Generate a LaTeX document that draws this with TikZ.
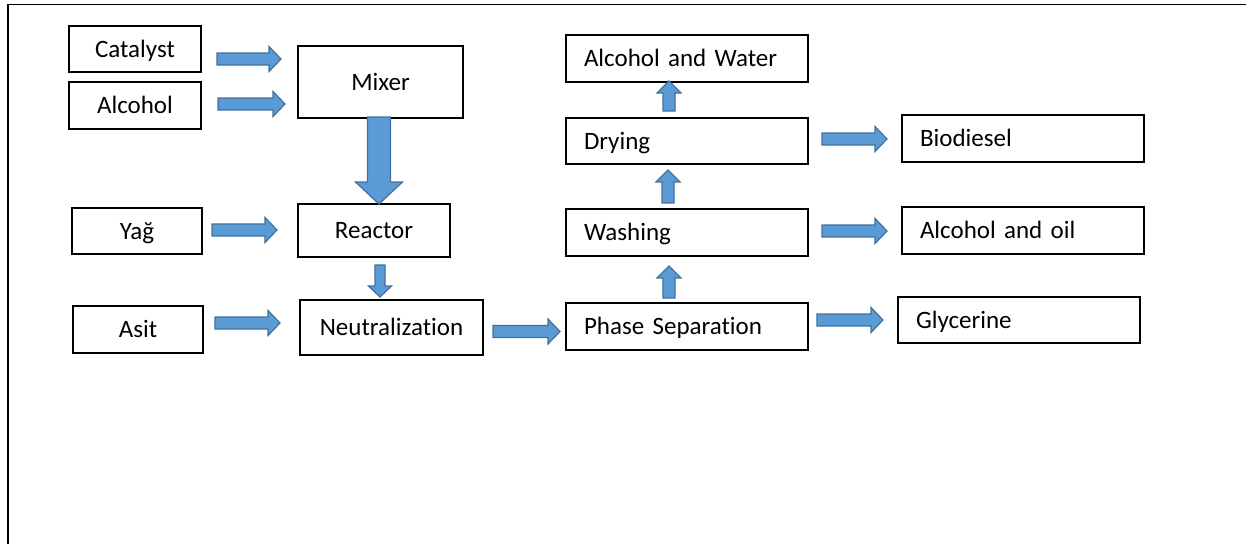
\documentclass[tikz,border=0pt]{standalone}
\usepackage{fontspec}
\setmainfont{Carlito}[Ligatures=NoCommon]
\usepackage{tikz}
\usetikzlibrary{positioning,calc}

\definecolor{arrowfill}{HTML}{5B9BD5}
\definecolor{arrowline}{HTML}{41719C}

\begin{document}
\begin{tikzpicture}[x=1pt,y=-1pt,
		box/.style={draw,line width=1.4pt,fill=white,inner sep=0pt,outer sep=0pt,minimum height=47pt,
			text height=16pt,text depth=0pt,font=\fontsize{25}{30}\selectfont},
		lbox/.style={box,minimum width=242pt,text width=206pt,align=left},
		flow/.style n args={3}{fill=arrowfill,draw=arrowline,line width=1.2pt,line join=miter,
			to path={(\tikztostart) coordinate (fs) (\tikztotarget) coordinate (ft)
				($(ft)!#3pt!(fs)$) coordinate (fh)
				($(fs)!#1pt!90:(ft)$)
				-- ($(fh)!#1pt!90:(ft)$) -- ($(fh)!#2pt!90:(ft)$)
				-- (ft)
				-- ($(fh)!#2pt!-90:(ft)$) -- ($(fh)!#1pt!-90:(ft)$)
				-- ($(fs)!#1pt!-90:(ft)$) -- cycle}}]
		\useasboundingbox (0,0) rectangle (1246,544);
		\draw[line width=1.5pt] (8,544) -- (8,4.5) -- (1246,4.5);

		\node[box,minimum width=132pt,minimum height=46pt] (cat) at (135,49) {Catalyst};
		\node[box,minimum width=132pt] (alc) [below=10pt of cat] {Alcohol};
		\node[box,minimum width=165pt,minimum height=72pt] (mix) at (380.5,82) {Mixer};
		\node[box,minimum width=130pt,minimum height=46pt] (yag) at (137,231) {Yağ};
		\node[box,minimum width=152pt,minimum height=53pt] (rea) at (374,230.5) {Reactor};
		\node[box,minimum width=130pt] (asit) at (138,329.5) {Asit};
		\node[box,minimum width=183pt,minimum height=55pt] (neu) at (391.5,327.5) {Neutralization};

		\node[lbox] (aw) at (687,58.5) {Alcohol and Water};
		\node[lbox,minimum height=46pt] (dry) [below=36pt of aw] {Drying};
		\node[lbox] (wash) [below=45pt of dry] {Washing};
		\node[lbox] (phase) [below=47pt of wash] {Phase Separation};
		\node[lbox] (bio) at (1023,138.5) {Biodiesel};
		\node[lbox] (ao) [below=45pt of bio] {Alcohol and oil};
		\node[lbox,minimum height=46pt] (gly) at (1019,320) {Glycerine};

		\draw[flow={6}{12.5}{12}] ($(cat.east)+(16,10)$) to ($(mix.west)+(-17,-23)$);
		\draw[flow={6}{12.5}{12}] ($(alc.east)+(17,-1.5)$) to ($(mix.west)+(-13,22)$);
		\draw[flow={6}{12.5}{12}] ($(yag.east)+(10,-1)$) to ($(rea.west)+(-21,-0.5)$);
		\draw[flow={6}{12.5}{12}] ($(asit.east)+(12,-6.5)$) to ($(neu.west)+(-20,-4.5)$);
		\draw[flow={6}{12.5}{12}] ($(neu.east)+(10,4)$) to ($(phase.west)+(-6,5)$);
		\draw[flow={6}{12.5}{12}] ($(dry.east)+(14,-2)$) to ($(bio.west)+(-15,0.5)$);
		\draw[flow={6}{12.5}{12}] ($(wash.east)+(14,-1.5)$) to ($(ao.west)+(-15,0.5)$);
		\draw[flow={6}{12.5}{12}] ($(phase.east)+(9,-6.5)$) to ($(gly.west)+(-15,0)$);

		\draw[flow={11.5}{23.5}{22}] ($(mix.south)+(-1.5,-1)$) to ($(rea.north)+(5,0)$);
		\draw[flow={5}{11.5}{11}] ($(rea.south)+(6,8)$) to ($(neu.north)+(-11.5,-3)$);
		\draw[flow={6}{12}{12}] ($(phase.north)+(-18,-5)$) to ($(wash.south)+(-18,10)$);
		\draw[flow={6}{12}{12}] ($(wash.north)+(-19,-6)$) to ($(dry.south)+(-19,6)$);
		\draw[flow={6}{12}{12}] ($(dry.north)+(-18,-7)$) to ($(aw.south)+(-18,-1)$);
	\end{tikzpicture}
\end{document}
